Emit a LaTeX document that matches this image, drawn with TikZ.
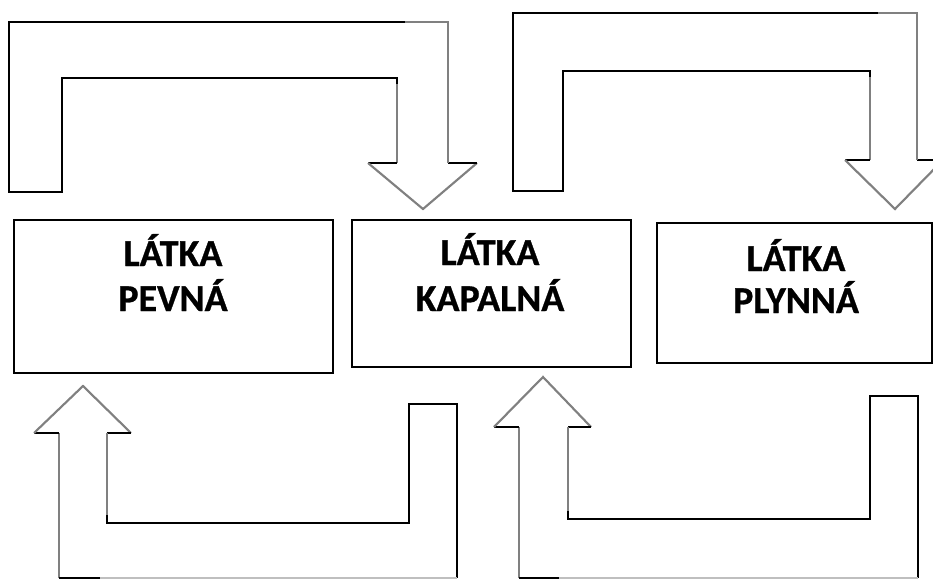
\documentclass[tikz,border=0pt]{standalone}
\usepackage{fontspec}
\setmainfont{Carlito}[BoldFeatures={FakeBold=0.8}]
\usetikzlibrary{calc}
\begin{document}
\begin{tikzpicture}[x=0.75pt,y=-0.75pt,
  bk/.style={draw=black,line width=1.6pt,line join=miter},
  gr/.style={draw=black!50,line width=1.6pt,line join=miter},
  lgr/.style={draw=black!25,line width=1.2pt},
  stbox/.style={draw=black,line width=1.6pt,rectangle,inner sep=0pt},
  lbl/.style={font=\fontsize{28.5}{34}\selectfont\bfseries,inner sep=0pt,anchor=base}]
\useasboundingbox (0,0) rectangle (933,579);
\clip (0,0) rectangle (933,579);

% boxes
\node[stbox,minimum width=239.25pt,minimum height=114.75pt] (b1) at (173.5,296.5) {};
\node[stbox,minimum width=209.25pt,minimum height=110.25pt] (b2) at (491.5,293.5) {};
\node[stbox,minimum width=206.25pt,minimum height=105pt] (b3) at (794.5,293) {};

\node[lbl] (t1a) at (173,266) {LÁTKA};
\node[lbl] (t1b) at (173,311) {PEVNÁ};
\node[lbl] (t2a) at (490,265) {LÁTKA};
\node[lbl] (t2b) at (490,311) {KAPALNÁ};
\node[lbl] (t3a) at (796,271) {LÁTKA};
\node[lbl] (t3b) at (796,313) {PLYNNÁ};

% top-left arrow
\coordinate (A1) at (9,192);  \coordinate (A2) at (9,22);
\coordinate (A3) at (448,22); \coordinate (A3b) at (405,22);
\coordinate (A4) at (448,163); \coordinate (A5) at (477,163);
\coordinate (A6) at (423,209); \coordinate (A7) at (368,163);
\coordinate (A8) at (397,163); \coordinate (A9) at (397,78);
\coordinate (A10) at (62,78); \coordinate (A11) at (62,192);
\draw[bk] (A3b) -- (A2) -- (A1) -- (A11) -- (A10) -- (A9) -- ++(0,8);
\draw[gr] (A9) ++(0,6) -- (A8);
\draw[bk] (A8) -- (A7);
\draw[gr] (A7) -- (A6) -- (A5);
\draw[bk] (A5) -- (A4);
\draw[gr] (A4) -- (A3) -- (A3b);

% top-right arrow
\coordinate (B1) at (513,191); \coordinate (B2) at (513,13);
\coordinate (B3) at (917,13);  \coordinate (B3b) at (878,13);
\coordinate (B4) at (917,160); \coordinate (B5) at (943,160);
\coordinate (B6) at (895,209); \coordinate (B7) at (845,160);
\coordinate (B8) at (870,160); \coordinate (B9) at (870,71);
\coordinate (B10) at (563,71); \coordinate (B11) at (563,191);
\draw[bk] (B3b) -- (B2) -- (B1) -- (B11) -- (B10) -- (B9) -- ++(0,8);
\draw[gr] (B9) ++(0,6) -- (B8);
\draw[bk] (B8) -- (B7);
\draw[gr] (B7) -- (B6) -- (B5);
\draw[bk] (B5) -- (B4);
\draw[gr] (B4) -- (B3) -- (B3b);

% bottom-left arrow
\coordinate (C1) at (59,578);  \coordinate (C2) at (59,433);
\coordinate (C3) at (34,433);  \coordinate (C4) at (83,386);
\coordinate (C5) at (131,433); \coordinate (C6) at (107,433);
\coordinate (C7) at (107,523); \coordinate (C8) at (409,523);
\coordinate (C9) at (409,404); \coordinate (C10) at (457,404);
\coordinate (C11) at (457,578); \coordinate (C12) at (100,578);
\draw[gr] (C1) -- (C2);
\draw[bk] (C2) -- (C3);
\draw[gr] (C3) -- (C4) -- (C5);
\draw[bk] (C5) -- (C6);
\draw[gr] (C6) -- ($(C7)+(0,-6)$);
\draw[bk] ($(C7)+(0,-8)$) -- (C7) -- (C8) -- (C9) -- (C10) -- (C11);
\draw[bk] (C1) -- (C12);
\draw[lgr] (C12) -- (C11);

% bottom-right arrow
\coordinate (D1) at (519,578);  \coordinate (D2) at (519,427);
\coordinate (D3) at (494,427);  \coordinate (D4) at (543,377);
\coordinate (D5) at (591,427);  \coordinate (D6) at (568,427);
\coordinate (D7) at (568,519);  \coordinate (D8) at (870,519);
\coordinate (D9) at (870,396);  \coordinate (D10) at (918,396);
\coordinate (D11) at (918,578); \coordinate (D12) at (559,578);
\draw[gr] (D1) -- (D2);
\draw[bk] (D2) -- (D3);
\draw[gr] (D3) -- (D4) -- (D5);
\draw[bk] (D5) -- (D6);
\draw[gr] (D6) -- ($(D7)+(0,-6)$);
\draw[bk] ($(D7)+(0,-8)$) -- (D7) -- (D8) -- (D9) -- (D10) -- (D11);
\draw[bk] (D1) -- (D12);
\draw[lgr] (D12) -- (D11);
\end{tikzpicture}
\end{document}
